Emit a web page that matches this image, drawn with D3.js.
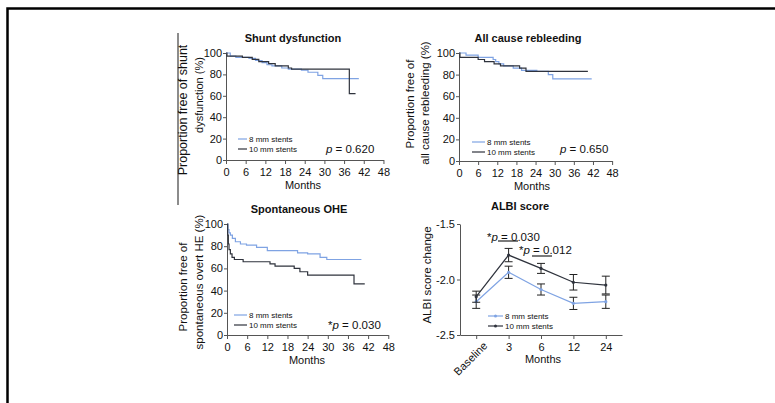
<!DOCTYPE html>
<html>
<head>
<meta charset="utf-8">
<script src="https://cdn.jsdelivr.net/npm/d3@7"></script>
<style>
body { margin: 0; background: #fff; }
text { font-family: "Liberation Sans", Arial, sans-serif; fill: #111; }
.axis path, .axis line { stroke: #555; stroke-width: 1; }
.axis text { font-size: 11px; fill: #111; }
</style>
</head>
<body>
<div id="chart"></div>
<script>
// ---- data ----
const month_ticks = [0, 6, 12, 18, 24, 30, 36, 42, 48];
const pct_ticks = [0, 20, 40, 60, 80, 100];

// [month, % free] step points, plus last follow-up month
const shunt_8mm = [[0,100],[1.3,97],[3,96],[7,95],[9,93],[11,91],[12.5,89],[14,88],[17,86],[19,85],[23,84],[25,82],[28,79],[29.5,76]];
const shunt_8mm_end = 40.5;
const shunt_10mm = [[0,100],[0.3,97],[5,96],[8,94],[10,92],[13,90],[15,88],[19,86],[20,85],[37.6,62]];
const shunt_10mm_end = 39.5;

const rebleed_8mm = [[0,100],[2.2,98],[6,96],[10.7,94],[11.5,92],[12.5,90],[14,88],[17,86],[19.6,84],[24.4,83],[28,80],[29.4,76]];
const rebleed_8mm_end = 41.6;
const rebleed_10mm = [[0,100],[0.3,96],[6,94],[8,92],[11,90],[13,88],[19,86],[21,83]];
const rebleed_10mm_end = 40.4;

const ohe_8mm = [[0,100],[0.3,95],[0.6,92],[1,90],[1.6,87],[2.5,84],[4,82],[5.8,81],[8.8,79],[12,76],[21,74],[24,73],[27.7,70],[29.7,68]];
const ohe_8mm_end = 40;
const ohe_10mm = [[0,100],[0.2,90],[0.4,82],[0.6,77],[1,73],[1.5,70],[2.2,68],[4.8,66],[12.8,64],[14.3,62],[20,60],[21.7,57],[24,54],[37.8,46]];
const ohe_10mm_end = 41;

const albi_cats = ["Baseline", "3", "6", "12", "24"];
const albi_ticks = [-1.5, -2.0, -2.5];
const albi_8mm = [-2.20, -1.935, -2.09, -2.215, -2.20];
const albi_8mm_err = [0.06, 0.055, 0.05, 0.055, 0.06];
const albi_10mm = [-2.155, -1.78, -1.90, -2.025, -2.05];
const albi_10mm_err = [0.05, 0.06, 0.045, 0.07, 0.08];

const blue = "#7fa3e3", dark = "#2f333d";

var svg = d3.select("#chart").append("svg")
    .attr("width", 775)
    .attr("height", 403);

// page frame
svg.append("path")
    .attr("d", "M7.5,403 L7.5,8.5 L775,8.5")
    .attr("fill", "none").attr("stroke", "#000").attr("stroke-width", 2.5);
// cropped label edge line
svg.append("line")
    .attr("x1", 178).attr("x2", 178).attr("y1", 33).attr("y2", 205)
    .attr("stroke", "#666").attr("stroke-width", 1.5);

function rot_text(x, y, txt, size) {
    svg.append("text")
        .attr("transform", `translate(${x},${y}) rotate(-90)`)
        .attr("text-anchor", "middle")
        .attr("dy", "0.35em")
        .style("font-size", size + "px")
        .text(txt);
}

function km_plot(p) {
    var x = d3.scaleLinear().domain([0, 48]).range([p.left, p.left + 48 * p.pxm]);
    var y = d3.scaleLinear().domain([0, 100]).range([p.bottom, p.top]);

    svg.append("g").attr("class", "axis")
        .attr("transform", `translate(0,${p.bottom})`)
        .call(d3.axisBottom(x).tickValues(month_ticks).tickSize(4).tickPadding(4).tickSizeOuter(0));
    svg.append("g").attr("class", "axis")
        .attr("transform", `translate(${p.left},0)`)
        .call(d3.axisLeft(y).tickValues(pct_ticks).tickSize(3).tickPadding(1).tickSizeOuter(0));

    var line = d3.line().x(d => x(d[0])).y(d => y(d[1])).curve(d3.curveStepAfter);
    [[p.s8, p.e8, blue], [p.s10, p.e10, dark]].forEach(function (s) {
        var pts = s[0].concat([[s[1], s[0][s[0].length - 1][1]]]);
        svg.append("path").datum(pts)
            .attr("d", line)
            .attr("fill", "none")
            .attr("stroke", s[2])
            .attr("stroke-width", 1.2);
    });

    svg.append("text").attr("x", p.titleX).attr("y", p.top - 11)
        .attr("text-anchor", "middle")
        .style("font-size", "11px").style("font-weight", "bold")
        .text(p.title);
    svg.append("text").attr("x", p.monthsX).attr("y", p.bottom + 29)
        .attr("text-anchor", "middle").style("font-size", "11px")
        .text("Months");

    rot_text(p.yl1[0], p.yl1[1], p.yl1[2], p.yl1[3]);
    rot_text(p.yl2[0], p.yl2[1], p.yl2[2], p.yl2[3]);

    // legend
    [["8 mm stents", blue], ["10 mm stents", dark]].forEach(function (l, i) {
        var ly = p.legY + i * 10;
        svg.append("line").attr("x1", p.legX).attr("x2", p.legX + p.legW)
            .attr("y1", ly).attr("y2", ly).attr("stroke", l[1]).attr("stroke-width", 1.2);
        svg.append("text").attr("x", p.legX + p.legW + 2).attr("y", ly + 3)
            .style("font-size", "8px").text(l[0]);
    });

    var pt = svg.append("text").attr("x", p.pX).attr("y", p.pY + 4).style("font-size", "11.5px");
    if (p.star) pt.append("tspan").text("*");
    pt.append("tspan").style("font-style", "italic").text("p");
    pt.append("tspan").text(" = " + p.pval);
}

km_plot({ left: 226, pxm: 3.28, top: 53, bottom: 160, title: "Shunt dysfunction", titleX: 293, monthsX: 303,
    s8: shunt_8mm, e8: shunt_8mm_end, s10: shunt_10mm, e10: shunt_10mm_end,
    yl1: [183, 110, "Proportion free of shunt", 12.5], yl2: [199, 95, "dysfunction (%)", 11],
    legX: 238, legW: 9, legY: 139, pX: 326, pY: 149, pval: "0.620", star: false });

km_plot({ left: 459, pxm: 3.19, top: 53, bottom: 161, title: "All cause rebleeding", titleX: 528, monthsX: 532,
    s8: rebleed_8mm, e8: rebleed_8mm_end, s10: rebleed_10mm, e10: rebleed_10mm_end,
    yl1: [410, 104, "Proportion free of", 11.5], yl2: [425, 103, "all cause rebleeding (%)", 11.5],
    legX: 472, legW: 13, legY: 142, pX: 560, pY: 149, pval: "0.650", star: false });

km_plot({ left: 227, pxm: 3.36, top: 224, bottom: 335, title: "Spontaneous OHE", titleX: 299, monthsX: 307,
    s8: ohe_8mm, e8: ohe_8mm_end, s10: ohe_10mm, e10: ohe_10mm_end,
    yl1: [183, 287, "Proportion free of", 11.5], yl2: [199, 282, "spontaneous overt HE (%)", 11.5],
    legX: 234, legW: 13, legY: 315, pX: 328, pY: 325, pval: "0.030", star: true });

// ---- ALBI score panel ----
var ax = d3.scalePoint().domain(albi_cats).range([460, 622]).padding(0.5);
var ay = d3.scaleLinear().domain([-2.5, -1.5]).range([335, 224]);

svg.append("g").attr("class", "axis")
    .attr("transform", "translate(0,335)")
    .call(d3.axisBottom(ax).tickSize(4).tickPadding(4).tickSizeOuter(0))
    .selectAll("text")
    .filter(d => d == "Baseline")
    .attr("text-anchor", "end")
    .attr("dy", "0.35em")
    .attr("transform", "translate(3,3) rotate(-45)");
svg.append("g").attr("class", "axis")
    .attr("transform", "translate(460,0)")
    .call(d3.axisLeft(ay).tickValues(albi_ticks).tickFormat(d => d.toFixed(1)).tickSize(3).tickPadding(2).tickSizeOuter(0));

[[albi_8mm, albi_8mm_err, blue], [albi_10mm, albi_10mm_err, dark]].forEach(function (s) {
    var pts = albi_cats.map((c, i) => [c, s[0][i], s[1][i]]);
    svg.append("path").datum(pts)
        .attr("d", d3.line().x(d => ax(d[0])).y(d => ay(d[1])))
        .attr("fill", "none").attr("stroke", s[2]).attr("stroke-width", 1.2);
    var g = svg.append("g");
    pts.forEach(function (d) {
        var cx = ax(d[0]);
        g.append("path")
            .attr("d", `M${cx},${ay(d[1] - d[2])}V${ay(d[1] + d[2])}M${cx - 4},${ay(d[1] - d[2])}H${cx + 4}M${cx - 4},${ay(d[1] + d[2])}H${cx + 4}`)
            .attr("fill", "none").attr("stroke", "#222").attr("stroke-width", 1);
        g.append("circle").attr("cx", cx).attr("cy", ay(d[1])).attr("r", 1.6).attr("fill", s[2]);
    });
});

svg.append("text").attr("x", 520).attr("y", 210).attr("text-anchor", "middle")
    .style("font-size", "11px").style("font-weight", "bold").text("ALBI score");
svg.append("text").attr("x", 543).attr("y", 363).attr("text-anchor", "middle")
    .style("font-size", "11px").text("Months");
rot_text(427, 275, "ALBI score change", 11.5);

[["8 mm stents", blue], ["10 mm stents", dark]].forEach(function (l, i) {
    var ly = 316 + i * 10;
    svg.append("line").attr("x1", 488).attr("x2", 503).attr("y1", ly).attr("y2", ly)
        .attr("stroke", l[1]).attr("stroke-width", 1.2);
    svg.append("circle").attr("cx", 495.5).attr("cy", ly).attr("r", 1.5).attr("fill", l[1]);
    svg.append("text").attr("x", 505).attr("y", ly + 3).style("font-size", "8px").text(l[0]);
});

// significance labels
[[487, 237, "0.030", 498, 518, 241], [519, 250, "0.012", 532, 552, 256]].forEach(function (a) {
    var t = svg.append("text").attr("x", a[0]).attr("y", a[1] + 4).style("font-size", "11.5px");
    t.append("tspan").text("*");
    t.append("tspan").style("font-style", "italic").text("p");
    t.append("tspan").text(" = " + a[2]);
    svg.append("line").attr("x1", a[3]).attr("x2", a[4]).attr("y1", a[5]).attr("y2", a[5])
        .attr("stroke", "#222").attr("stroke-width", 1.2);
});
</script>
</body>
</html>
